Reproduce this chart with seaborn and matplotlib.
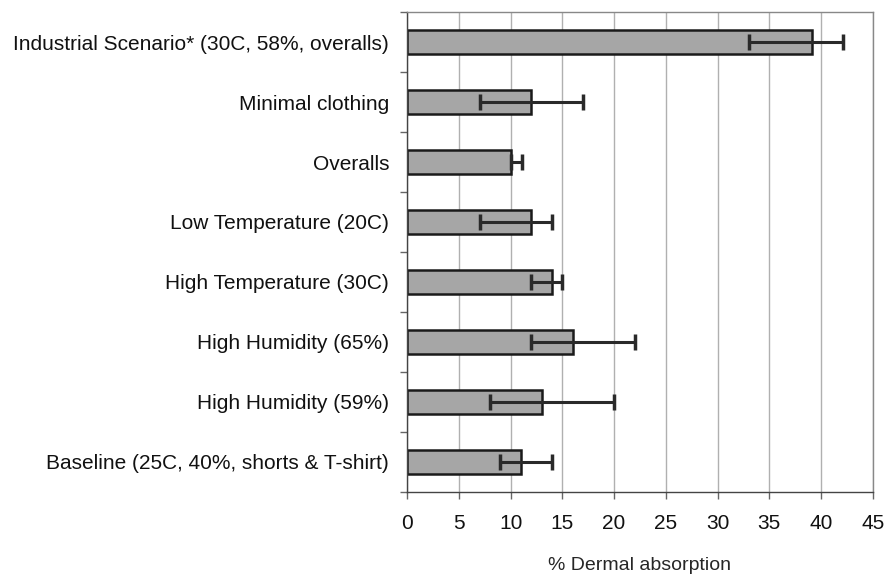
import numpy as np
import pandas as pd
import seaborn as sns
import matplotlib.pyplot as plt
from matplotlib.ticker import FixedLocator

# Values (top to bottom)
scenarios = [
    "Industrial Scenario* (30C, 58%, overalls)",
    "Minimal clothing",
    "Overalls",
    "Low Temperature (20C)",
    "High Temperature (30C)",
    "High Humidity (65%)",
    "High Humidity (59%)",
    "Baseline (25C, 40%, shorts & T-shirt)",
]
absorption = [39.1, 12.0, 10.0, 12.0, 14.0, 16.0, 13.0, 11.0]
err_low = [33.0, 7.0, 10.0, 7.0, 12.0, 12.0, 8.0, 9.0]
err_high = [42.1, 17.0, 11.1, 14.0, 15.0, 22.0, 20.0, 14.0]

df = pd.DataFrame({"scenario": scenarios, "absorption": absorption})

sns.set_style("white")
plt.rcParams['font.family'] = ['Liberation Sans', 'DejaVu Sans']
plt.rcParams['text.color'] = '#111111'
plt.rcParams['xtick.labelcolor'] = '#111111'
plt.rcParams['ytick.labelcolor'] = '#111111'

fig = plt.figure(figsize=(8.87, 5.74), dpi=100)
ax = fig.add_axes([0.459, 0.143, 0.525, 0.836])

sns.barplot(data=df, x="absorption", y="scenario", orient="h", color="#a6a6a6",
            edgecolor="#1a1a1a", linewidth=1.8, width=0.4, saturation=1, ax=ax, zorder=2)

pos = np.arange(len(scenarios))
vals = np.array(absorption)
xerr = [vals - np.array(err_low), np.array(err_high) - vals]
ax.errorbar(vals, pos, xerr=xerr, fmt="none", ecolor="#2a2a2a", elinewidth=2.2,
            capsize=6, capthick=2.5, zorder=3)

ax.set_xlim(0, 45)
ax.set_ylim(len(scenarios) - 0.5, -0.5)
ax.set_xticks(np.arange(0, 46, 5))
ax.xaxis.grid(True, color="#b0b0b0", linewidth=1)
ax.set_axisbelow(True)

ax.yaxis.set_minor_locator(FixedLocator(np.arange(-0.5, len(scenarios), 1)))
ax.tick_params(axis="y", which="major", length=0, labelsize=15, pad=13)
ax.tick_params(axis="y", which="minor", left=True, length=5, width=1, color="#666666")
ax.tick_params(axis="x", which="major", bottom=True, length=5, width=1, color="#666666",
               labelsize=15, pad=11)

for s in ax.spines.values():
    s.set_color("#888888")
    s.set_linewidth(1)
ax.spines["left"].set_color("#444444")
ax.spines["bottom"].set_color("#444444")

ax.set_ylabel("")
ax.set_xlabel("% Dermal absorption", fontsize=14, labelpad=17)

fig.savefig("out.png", dpi=100)
